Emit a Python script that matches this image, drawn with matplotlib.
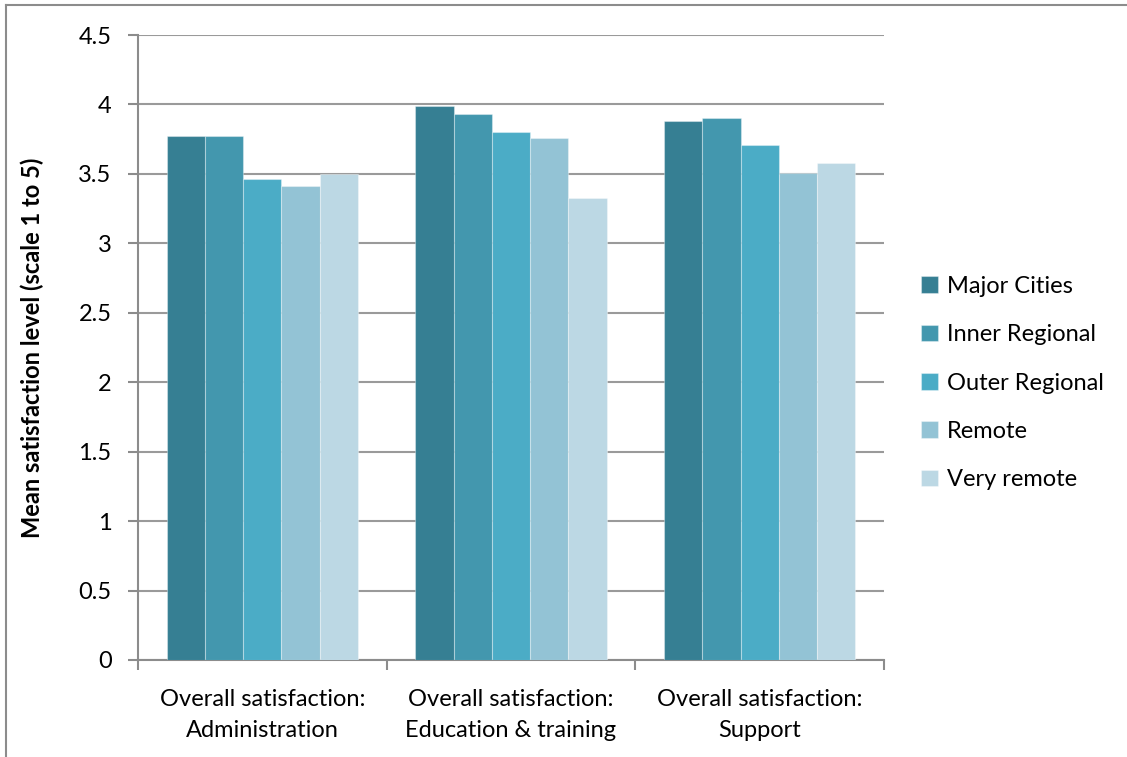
import matplotlib
matplotlib.use("Agg")
import matplotlib.pyplot as plt
import numpy as np
from matplotlib.lines import Line2D

plt.rcParams['font.family'] = ['Lato', 'DejaVu Sans']

categories = ["Overall satisfaction:\nAdministration",
              "Overall satisfaction:\nEducation & training",
              "Overall satisfaction:\nSupport"]
series_names = ["Major Cities", "Inner Regional", "Outer Regional", "Remote", "Very remote"]
major_cities = [3.77, 3.99, 3.88]
inner_regional = [3.77, 3.93, 3.90]
outer_regional = [3.46, 3.80, 3.71]
remote = [3.41, 3.76, 3.51]
very_remote = [3.50, 3.33, 3.58]
series_values = [major_cities, inner_regional, outer_regional, remote, very_remote]
colors = ["#367F93", "#4397AE", "#4BACC6", "#93C3D5", "#BCD8E4"]
yticks = [0, 0.5, 1, 1.5, 2, 2.5, 3, 3.5, 4, 4.5]
ytick_labels = ["0", "0.5", "1", "1.5", "2", "2.5", "3", "3.5", "4", "4.5"]

FS = 17

fig = plt.figure(figsize=(11.27, 7.57), dpi=100)
ax = fig.add_axes([138/1127, 1-660/757, (884-138)/1127, (660-35)/757])

n = len(series_names)
bw = 1.0 / (n + 1.5)
x = np.arange(len(categories))
for i, (name, vals, c) in enumerate(zip(series_names, series_values, colors)):
    offs = (i - (n - 1) / 2) * bw
    ax.bar(x + offs, vals, width=bw, color=c, label=name,
           edgecolor=(1, 1, 1, 0.35), linewidth=0.8, zorder=3)

ax.set_xlim(-0.5, len(categories) - 0.5)
ax.set_ylim(0, 4.5)
ax.set_yticks(yticks)
ax.set_yticklabels(ytick_labels, fontsize=FS)
ax.set_xticks(x)
ax.set_xticklabels(categories, fontsize=FS, linespacing=1.55)
ax.tick_params(axis='x', length=0, pad=21)
ax.set_xticks(np.arange(len(categories) + 1) - 0.5, minor=True)
ax.tick_params(axis='x', which='minor', length=7, width=1.5, color='#8c8c8c', direction='out')
ax.tick_params(axis='y', length=7, width=1.5, color='#8c8c8c', direction='out', pad=12)

ax.grid(axis='y', color='#9a9a9a', linewidth=1.5, zorder=0)
ax.set_axisbelow(True)
for s in ['top', 'right']:
    ax.spines[s].set_visible(False)
for s in ['left', 'bottom']:
    ax.spines[s].set_color('#8c8c8c')
    ax.spines[s].set_linewidth(1.5)

ax.set_ylabel("Mean satisfaction level (scale 1 to 5)", fontsize=FS, fontweight='bold', labelpad=25)

leg = ax.legend(loc='center left', bbox_to_anchor=(900/1127, 1-383/757),
                bbox_transform=fig.transFigure, frameon=False, fontsize=FS,
                handlelength=0.7, handleheight=0.7, handletextpad=0.4,
                labelspacing=1.16)

# figure border lines (left and top)
fig.add_artist(Line2D([6/1127, 6/1127], [0, 1-5/757], transform=fig.transFigure, color='#8c8c8c', linewidth=1.5))
fig.add_artist(Line2D([6/1127, 1], [1-5/757, 1-5/757], transform=fig.transFigure, color='#8c8c8c', linewidth=1.5))

fig.savefig("out.png", dpi=100, facecolor='white')
